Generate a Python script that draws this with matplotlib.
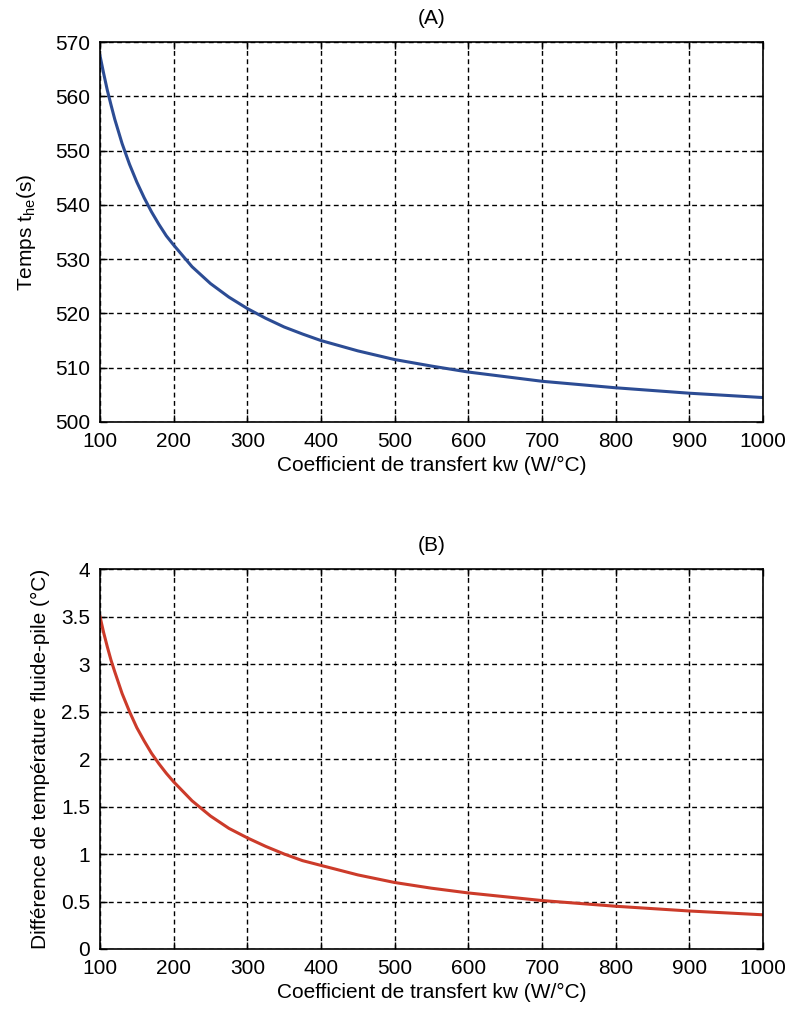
import matplotlib
matplotlib.use("Agg")
import matplotlib.pyplot as plt

# transfer coefficient kw (W/°C)
kw = [100, 105, 110, 115, 120, 130, 140, 150, 160, 170, 180, 190, 200,
      225, 250, 275, 300, 325, 350, 375, 400, 450, 500, 550, 600, 700,
      800, 900, 1000]

# (A) heating time t_he (s)
t_he = [567.5, 564.2, 561.1, 558.4, 555.8, 551.3, 547.5, 544.2, 541.3,
        538.7, 536.4, 534.3, 532.6, 528.6, 525.5, 523.0, 520.9, 519.1,
        517.5, 516.2, 515.0, 513.1, 511.5, 510.3, 509.2, 507.5, 506.3,
        505.3, 504.5]

# (B) fluid / stack temperature difference (°C)
dT = [3.50, 3.33, 3.18, 3.04, 2.92, 2.69, 2.50, 2.33, 2.19, 2.06, 1.95,
      1.85, 1.76, 1.56, 1.40, 1.27, 1.17, 1.08, 1.00, 0.93, 0.88, 0.78,
      0.70, 0.64, 0.59, 0.51, 0.45, 0.40, 0.36]

xticks = list(range(100, 1001, 100))

plt.rcParams['font.family'] = ['Liberation Sans', 'DejaVu Sans']
plt.rcParams['font.size'] = 15

fig = plt.figure(figsize=(7.91, 10.10), dpi=100)
ax1 = fig.add_axes([0.1264, 0.5822, 0.8382, 0.3762])
ax2 = fig.add_axes([0.1264, 0.0604, 0.8382, 0.3762])


def style(ax):
    ax.set_xlim(100, 1000)
    ax.set_xticks(xticks)
    ax.grid(True, color='black', linestyle=(0, (3.5, 2.5)), linewidth=1.0)
    ax.tick_params(direction='in', top=True, right=True, length=5,
                   width=1.0, labelsize=15, pad=7)
    for sp in ax.spines.values():
        sp.set_linewidth(1.2)
    ax.set_axisbelow(True)


ax1.plot(kw, t_he, color='#2c4c94', linewidth=2.2)
style(ax1)
ax1.set_ylim(500, 570)
ax1.set_yticks(range(500, 571, 10))
ax1.set_title('(A)', fontsize=15, pad=13)
ax1.set_xlabel('Coefficient de transfert kw (W/°C)', fontsize=15, labelpad=4)
ax1.set_ylabel(r'Temps t$_{\mathregular{he}}$(s)', fontsize=15, labelpad=12)

ax2.plot(kw, dT, color='#cc3b2a', linewidth=2.2)
style(ax2)
ax2.set_ylim(0, 4)
ax2.set_yticks([0, 0.5, 1, 1.5, 2, 2.5, 3, 3.5, 4])
ax2.set_yticklabels(['0', '0.5', '1', '1.5', '2', '2.5', '3', '3.5', '4'])
ax2.set_title('(B)', fontsize=15, pad=13)
ax2.set_xlabel('Coefficient de transfert kw (W/°C)', fontsize=15, labelpad=4)
ax2.set_ylabel('Différence de température fluide-pile (°C)', fontsize=15,
               labelpad=8)

fig.savefig('out.png', dpi=100)
